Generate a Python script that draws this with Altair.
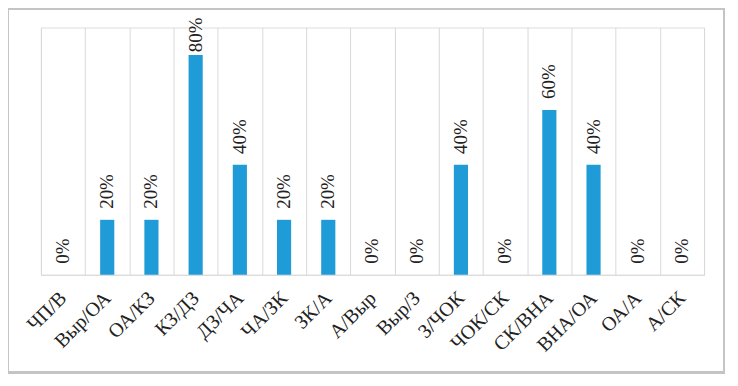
import altair as alt
import pandas as pd

categories = ["ЧП/В", "Выр/ОА", "ОА/КЗ", "КЗ/ДЗ", "ДЗ/ЧА", "ЧА/ЗК", "ЗК/А", "А/Выр",
              "Выр/З", "З/ЧОК", "ЧОК/СК", "СК/ВНА", "ВНА/ОА", "ОА/А", "А/СК"]
values = [0.0, 0.2, 0.2, 0.8, 0.4, 0.2, 0.2, 0.0, 0.0, 0.4, 0.0, 0.6, 0.4, 0.0, 0.0]

df = pd.DataFrame({"cat": categories, "v": values})
FONT = "Liberation Serif"

x = alt.X("cat:N", sort=categories, title=None,
          scale=alt.Scale(paddingInner=0, paddingOuter=0),
          axis=alt.Axis(labelAngle=-45, labelAlign="right", labelBaseline="middle",
                        labelFont=FONT, labelFontSize=20, labelColor="#222222",
                        labelPadding=20, ticks=False, domainColor="#d9d9d9",
                        grid=True, gridColor="#d9d9d9", tickBand="extent"))
y = alt.Y("v:Q", title=None, scale=alt.Scale(domain=[0, 0.9], nice=False), axis=None)

base = alt.Chart(df)
bars = base.mark_bar(color="#1f9bd7", width=alt.RelativeBandSize(0.32)).encode(x=x, y=y)
labels = base.transform_calculate(
    ly="min(datum.v, 0.77)",
    txt="format(datum.v, '.0%')"
).mark_text(angle=270, align="left", baseline="middle", dx=11,
            font=FONT, fontSize=19, color="#222222").encode(
    x=alt.X("cat:N", sort=categories),
    y=alt.Y("ly:Q"),
    text="txt:N")

frame = alt.Chart(df).mark_rect(fill=None, stroke="#c4c4c4", strokeWidth=1.5, clip=False).encode(
    x=alt.value(-33), x2=alt.value(685), y=alt.value(-19), y2=alt.value(346))

chart = alt.layer(bars, labels, frame).properties(
    width=665, height=248,
    autosize=alt.AutoSizeParams(type="none"),
    padding={"left": 33, "top": 19, "right": 26, "bottom": 102}
).configure_view(stroke=None).configure(background="white")

chart.save("out.html", embed_options={"renderer": "svg", "actions": False})
